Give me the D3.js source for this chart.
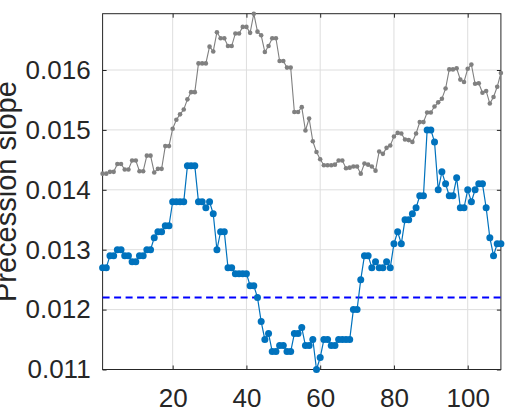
<!DOCTYPE html>
<html>
<head>
<meta charset="utf-8">
<script src="https://cdn.jsdelivr.net/npm/d3@7"></script>
<style>
  html, body { margin: 0; padding: 0; background: #ffffff; }
  svg { display: block; }
  text { font-family: "Liberation Sans", Arial, Helvetica, sans-serif; fill: #262626; }
</style>
</head>
<body>
<svg id="chart" width="505" height="410"></svg>
<script>
// ---- data ----
const xIndex = d3.range(1, 110);
const graySeries = [
  0.01427, 0.01427, 0.01430, 0.01430, 0.01443, 0.01443, 0.01434, 0.01434, 0.01449, 0.01449,
  0.01431, 0.01431, 0.01457, 0.01457, 0.01429, 0.01435, 0.01435, 0.01473, 0.01473, 0.01502,
  0.01517, 0.01526, 0.01534, 0.01551, 0.01563, 0.01563, 0.01611, 0.01611, 0.01611, 0.01639,
  0.01631, 0.01663, 0.01653, 0.01653, 0.01640, 0.01640, 0.01661, 0.01661, 0.01672, 0.01672,
  0.01662, 0.01694, 0.01664, 0.01658, 0.01630, 0.01640, 0.01653, 0.01653, 0.01615, 0.01615,
  0.01604, 0.01604, 0.01530, 0.01530, 0.01538, 0.01499, 0.01519, 0.01481, 0.01463, 0.01451,
  0.01441, 0.01441, 0.01441, 0.01442, 0.01449, 0.01449, 0.01436, 0.01437, 0.01439, 0.01439,
  0.01427, 0.01444, 0.01442, 0.01439, 0.01432, 0.01464, 0.01460, 0.01470, 0.01474, 0.01489,
  0.01495, 0.01494, 0.01484, 0.01483, 0.01480, 0.01494, 0.01513, 0.01513, 0.01529, 0.01529,
  0.01539, 0.01546, 0.01552, 0.01569, 0.01601, 0.01601, 0.01603, 0.01584, 0.01580, 0.01602,
  0.01609, 0.01577, 0.01578, 0.01562, 0.01565, 0.01544, 0.01555, 0.01572, 0.01595
];
const blueSeries = [
  0.0127, 0.0127, 0.0129, 0.0129, 0.0130, 0.0130, 0.0129, 0.0129, 0.0128, 0.0128,
  0.0129, 0.0129, 0.0130, 0.0130, 0.0132, 0.0133, 0.0133, 0.0134, 0.0134, 0.0138,
  0.0138, 0.0138, 0.0138, 0.0144, 0.0144, 0.0144, 0.0138, 0.0138, 0.0137, 0.0138,
  0.0136, 0.0130, 0.0133, 0.0133, 0.0127, 0.0127, 0.0126, 0.0126, 0.0126, 0.0126,
  0.0124, 0.0124, 0.0122, 0.0118, 0.0115, 0.0116, 0.0113, 0.0113, 0.0114, 0.0114,
  0.0113, 0.0113, 0.0116, 0.0116, 0.0117, 0.0114, 0.0114, 0.0115, 0.0110, 0.0112,
  0.0115, 0.0115, 0.0114, 0.0114, 0.0115, 0.0115, 0.0115, 0.0115, 0.0120, 0.0120,
  0.0125, 0.0129, 0.0129, 0.0127, 0.0128, 0.0127, 0.0127, 0.0128, 0.0127, 0.0131,
  0.0133, 0.0131, 0.0135, 0.0135, 0.0136, 0.0137, 0.0139, 0.0139, 0.0150, 0.0150,
  0.0148, 0.0140, 0.0143, 0.0141, 0.0139, 0.0139, 0.0142, 0.0137, 0.0137, 0.0140,
  0.0138, 0.0140, 0.0141, 0.0141, 0.0137, 0.0132, 0.0129, 0.0131, 0.0131
];
const thresholdValue = 0.0122;
const xTicks = [20, 40, 60, 80, 100];
const yTicks = [0.011, 0.012, 0.013, 0.014, 0.015, 0.016];
const yLabel = "Precession slope";

// ---- layout ----
const plotL = 102.6, plotR = 500.9, plotT = 13.7, plotB = 369.5;
const svg = d3.select("#chart");

const x = d3.scaleLinear().domain([1, 109]).range([plotL, plotR]);
const y = d3.scaleLinear().domain([0.011, 0.01694]).range([plotB, plotT]);

const axisColor = "#262626";
const gridColor = "#dedede";
const tickLen = 4;
const tickFont = 26;

// grid
const grid = svg.append("g");
grid.selectAll("line.gx").data(xTicks).join("line")
  .attr("class", "gx")
  .attr("x1", d => x(d)).attr("x2", d => x(d))
  .attr("y1", plotT).attr("y2", plotB)
  .attr("stroke", gridColor).attr("stroke-width", 1);
grid.selectAll("line.gy").data(yTicks).join("line")
  .attr("class", "gy")
  .attr("x1", plotL).attr("x2", plotR)
  .attr("y1", d => y(d)).attr("y2", d => y(d))
  .attr("stroke", gridColor).attr("stroke-width", 1);

// axes via d3 axis generators
const fmt = d3.format(".3f");
const gx = svg.append("g").attr("transform", `translate(0,${plotB})`)
  .call(d3.axisBottom(x).tickValues(xTicks).tickSize(-tickLen).tickPadding(19).tickFormat(d3.format("d")));
const gxTop = svg.append("g").attr("transform", `translate(0,${plotT})`)
  .call(d3.axisTop(x).tickValues(xTicks).tickSize(-tickLen).tickFormat(""));
const gy = svg.append("g").attr("transform", `translate(${plotL},0)`)
  .call(d3.axisLeft(y).tickValues(yTicks).tickSize(-tickLen).tickPadding(12).tickFormat(fmt));
const gyRight = svg.append("g").attr("transform", `translate(${plotR},0)`)
  .call(d3.axisRight(y).tickValues(yTicks).tickSize(-tickLen).tickFormat(""));

[gx, gxTop, gy, gyRight].forEach(g => {
  g.select(".domain").remove();
  g.selectAll(".tick line").attr("stroke", axisColor).attr("stroke-width", 1);
});
gx.selectAll(".tick text").attr("font-size", tickFont).attr("fill", axisColor)
  .attr("font-family", "Liberation Sans, Arial, sans-serif");
gy.selectAll(".tick text").attr("font-size", tickFont).attr("fill", axisColor)
  .attr("font-family", "Liberation Sans, Arial, sans-serif");

// box
svg.append("rect")
  .attr("x", plotL).attr("y", plotT)
  .attr("width", plotR - plotL).attr("height", plotB - plotT)
  .attr("fill", "none").attr("stroke", axisColor).attr("stroke-width", 1);

// threshold dashed line
svg.append("line")
  .attr("x1", x(1)).attr("x2", x(109))
  .attr("y1", y(thresholdValue)).attr("y2", y(thresholdValue))
  .attr("stroke", "#0000ff").attr("stroke-width", 2)
  .attr("stroke-dasharray", "7,4.5");

// series
const line = d3.line().x((d, i) => x(xIndex[i])).y(d => y(d));

svg.append("path").datum(graySeries)
  .attr("d", line).attr("fill", "none")
  .attr("stroke", "#808080").attr("stroke-width", 1.1);
svg.append("g").selectAll("circle").data(graySeries).join("circle")
  .attr("cx", (d, i) => x(xIndex[i])).attr("cy", d => y(d))
  .attr("r", 2.3).attr("fill", "#808080");

svg.append("path").datum(blueSeries)
  .attr("d", line).attr("fill", "none")
  .attr("stroke", "#0072BD").attr("stroke-width", 1.2);
svg.append("g").selectAll("circle").data(blueSeries).join("circle")
  .attr("cx", (d, i) => x(xIndex[i])).attr("cy", d => y(d))
  .attr("r", 3.5).attr("fill", "#0072BD");

// y label (partially cut off at the left edge, as in the reference)
svg.append("text")
  .attr("transform", `translate(16,${(plotT + plotB) / 2}) rotate(-90)`)
  .attr("text-anchor", "middle")
  .attr("font-size", 29)
  .attr("fill", axisColor)
  .text(yLabel);
</script>
</body>
</html>
